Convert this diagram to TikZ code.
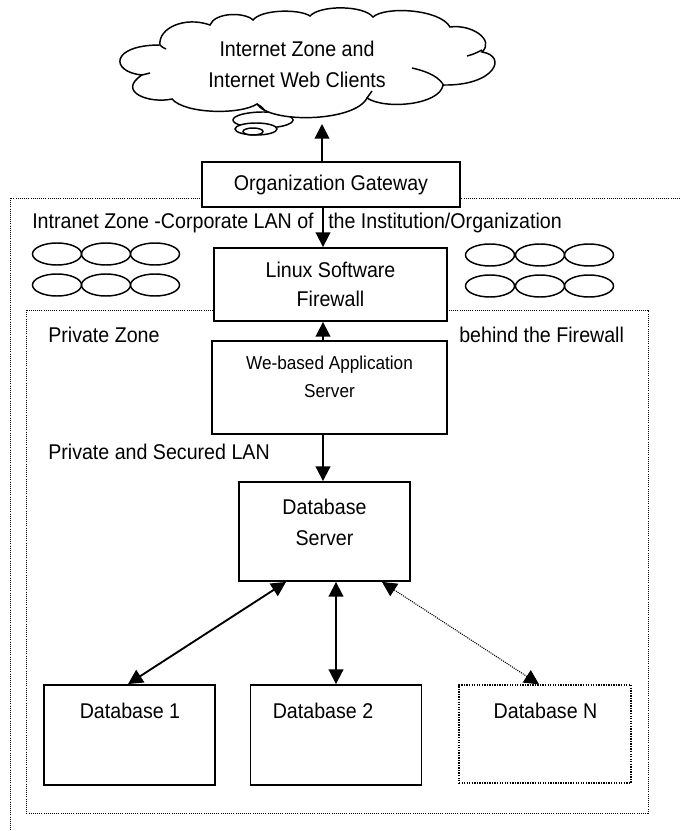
\documentclass[tikz,border=0pt]{standalone}
\usepackage{fontspec}
\setmainfont[FakeStretch=0.92]{Liberation Sans}
\usetikzlibrary{arrows.meta,calc}
\newcommand{\pw}[1]{#1*0.75pt}

\begin{document}
\begin{tikzpicture}[x=0.75pt,y=-0.75pt,line join=miter,
  font=\fontsize{16pt}{21pt}\selectfont,
  box/.style={draw,line width=1.4pt,fill=white,inner sep=0pt,align=center},
  txt/.style={inner sep=0pt,align=center},
  lbl/.style={anchor=west,inner sep=0pt},
  zone/.style={line width=0.7pt,dash pattern=on 0.7pt off 0.9pt},
  link/.style={line width=1.4pt,-{Triangle[length=11pt,width=11pt]}},
  both/.style={line width=1.4pt,{Triangle[length=11pt,width=11pt]}-{Triangle[length=11pt,width=11pt]}},
  host/.style={line width=1.1pt}]
\useasboundingbox (0,0) rectangle (680,831);
\coordinate (ax) at (323,0);
\coordinate (cloudin) at (322,124);
% zones
\draw[zone] (680,198) -- (10,198) -- (10,831);
\draw[zone] (26,310) rectangle (648,813);
% cloud
\draw[host,fill=white] (263,120) ellipse [x radius=30,y radius=8];
\draw[host,fill=white] (256,129) ellipse [x radius=21,y radius=6];
\draw[host,fill=white] (253,131.5) ellipse [x radius=10,y radius=3.5];
\draw[host,fill=white] (160,45) .. controls (158,28) and (185,16) .. (210,25)
  .. controls (215,12) and (245,12) .. (253,20)
  .. controls (262,9) and (300,9) .. (310,16)
  .. controls (320,5) and (363,5) .. (373,17)
  .. controls (385,6) and (440,9) .. (450,27)
  .. controls (472,24) and (495,40) .. (482,52)
  .. controls (508,56) and (495,86) .. (443,85)
  .. controls (440,105) and (385,110) .. (367,98)
  .. controls (355,122) and (270,124) .. (257,104)
  .. controls (240,115) and (185,114) .. (172,99)
  .. controls (150,104) and (116,92) .. (142,75)
  .. controls (110,72) and (110,45) .. cycle;
\draw[host] (160,45) .. controls (162,47) .. (166,49);
\draw[host] (467,56) .. controls (474,54) .. (482,50);
\draw[host] (412,68) .. controls (430,72) and (440,78) .. (444,86);
\draw[host] (142,75) .. controls (146,74) .. (150,73);
\draw[host] (257,104) .. controls (262,107) .. (265,111);
\draw[host] (367,98) .. controls (370,94) .. (372,91);
\node[txt,font=\fontsize{16pt}{23.25pt}\selectfont] (inet) at (297,64.5) {Internet Zone and\\Internet Web Clients};
% hosts of the intranet
\draw[host] (57,254) ellipse [x radius=24.5,y radius=11];
\draw[host] (106,254) ellipse [x radius=24.5,y radius=11];
\draw[host] (155,254) ellipse [x radius=24.5,y radius=11];
\draw[host] (57,285) ellipse [x radius=24.5,y radius=11];
\draw[host] (106,285) ellipse [x radius=24.5,y radius=11];
\draw[host] (155,285) ellipse [x radius=24.5,y radius=11];
\draw[host] (490,255) ellipse [x radius=24.5,y radius=11];
\draw[host] (540,255) ellipse [x radius=24.5,y radius=11];
\draw[host] (589,255) ellipse [x radius=24.5,y radius=11];
\draw[host] (490,286) ellipse [x radius=24.5,y radius=11];
\draw[host] (540,286) ellipse [x radius=24.5,y radius=11];
\draw[host] (589,286) ellipse [x radius=24.5,y radius=11];
\node[lbl] (intra1) at (32,223) {Intranet Zone -Corporate LAN of};
\node[lbl] (intra2) at (328,223) {the Institution/Organization};
\node[lbl] (priv) at (48,335) {Private Zone};
\node[lbl] (behind) at (459,335) {behind the Firewall};
\node[lbl] (seclan) at (48,452) {Private and Secured LAN};
% boxes
\node[box,minimum width=\pw{258},minimum height=\pw{45}] (gw) at (331,184.5) {Organization Gateway};
\node[box,minimum width=\pw{233},minimum height=\pw{73},font=\fontsize{16pt}{21.75pt}\selectfont] (fw) at (330.5,284.5) {Linux Software\\Firewall};
\node[box,minimum width=\pw{235},minimum height=\pw{93}] (app) at (329.5,387.5) {};
\node[txt,font=\fontsize{14pt}{21pt}\selectfont] (appt) at (329.5,377) {We-based Application\\Server};
\node[box,minimum width=\pw{171},minimum height=\pw{99}] (dbs) at (324.5,531.5) {};
\node[txt,font=\fontsize{16pt}{23.25pt}\selectfont] (dbst) at (324.5,522.5) {Database\\Server};
\node[box,minimum width=\pw{171},minimum height=\pw{100}] (db1) at (129.5,735) {};
\node[txt] (db1t) at (130,711) {Database 1};
\node[box,minimum width=\pw{171},minimum height=\pw{100}] (db2) at (336,735) {};
\node[txt] (db2t) at (323,711) {Database 2};
\node[box,zone,line width=1pt,dash pattern=on 1pt off 0.9pt,minimum width=\pw{172},minimum height=\pw{98}] (dbn) at (545,734) {};
\node[txt] (dbnt) at (545.5,711) {Database N};
% links
\draw[link] (gw.north -| cloudin) -- (cloudin);
\draw[link] (gw.south -| ax) -- (fw.north -| ax);
\draw[link] (app.north -| ax) -- (fw.south -| ax);
\draw[link] (app.south -| ax) -- (dbs.north -| ax);
\draw[both] ($(dbs.south)+(-38.5,0)$) -- ($(db1.north)+(-1.5,0)$);
\draw[both] (dbs.south -| db2.north) -- (db2.north);
\draw[both,line width=0.8pt,dash pattern=on 0.8pt off 0.8pt] ($(dbs.south)+(57.5,0)$) -- ($(dbn.north)+(-6,0)$);
\end{tikzpicture}
\end{document}
